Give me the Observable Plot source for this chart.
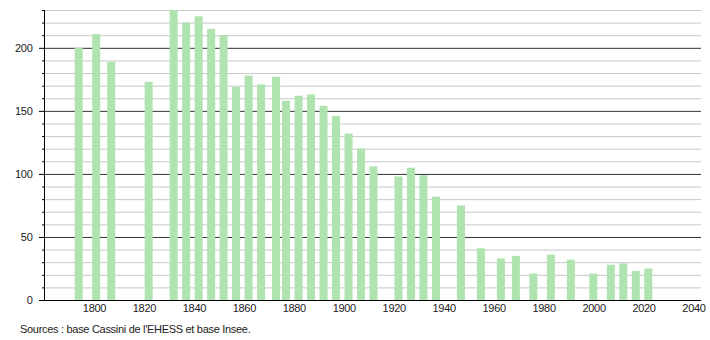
<!DOCTYPE html>
<html>
<head>
<meta charset="utf-8">
<script src="https://cdn.jsdelivr.net/npm/d3@7"></script>
<script src="https://cdn.jsdelivr.net/npm/@observablehq/plot@0.6"></script>
<style>
  body { margin: 0; background: #fff; font-family: "Liberation Sans", Arial, sans-serif; }
  #caption { font-size: 11px; letter-spacing: -0.3px; color: #222; margin: 5px 0 0 20px; line-height: 12px; }
  #chart svg text { letter-spacing: -0.3px; }
</style>
</head>
<body>
<div id="chart"></div>
<div id="caption">Sources : base Cassini de l'EHESS et base Insee.</div>
<script>
const years = [1793, 1800, 1806, 1821, 1831, 1836, 1841, 1846, 1851, 1856, 1861, 1866, 1872, 1876, 1881, 1886, 1891, 1896, 1901, 1906, 1911, 1921, 1926, 1931, 1936, 1946, 1954, 1962, 1968, 1975, 1982, 1990, 1999, 2006, 2011, 2016, 2021];
const population = [200, 211, 189, 173, 230, 220, 225, 215, 210, 169, 178, 171, 177, 158, 162, 163, 154, 146, 132, 120, 106, 98, 105, 99, 82, 75, 41, 33, 35, 21, 36, 32, 21, 28, 29, 23, 25];
const xTicks = [1800, 1820, 1840, 1860, 1880, 1900, 1920, 1940, 1960, 1980, 2000, 2020, 2040];
const yMajor = [0, 50, 100, 150, 200];
const yMinor = d3.range(10, 231, 10).filter(v => v % 50 !== 0);

const data = years.map((y, i) => ({year: y, pop: population[i]}));

const chart = Plot.plot({
  width: 710,
  height: 318,
  marginTop: 10,
  marginBottom: 18,
  marginLeft: 44,
  marginRight: 9,
  style: {fontFamily: "Liberation Sans, Arial, sans-serif", fontSize: "11px", color: "#222", background: "#fff"},
  x: {domain: [1780, 2043], label: null},
  y: {domain: [0, 230], label: null},
  marks: [
    Plot.gridY(yMinor, {stroke: "#c8c8c8", strokeOpacity: 1}),
    Plot.gridY(yMajor.filter(v => v > 0), {stroke: "#333", strokeOpacity: 1}),
    Plot.rectY(data, {x1: d => d.year - 0.7, x2: d => d.year + 2.5, y: "pop", fill: "#afe3af"}),
    Plot.ruleX([1780], {stroke: "#000"}),
    Plot.ruleY([0], {stroke: "#000"}),
    Plot.axisY(yMinor, {tickSize: 2, text: null, stroke: "#000", label: null}),
    Plot.axisY(yMajor, {tickSize: 5, tickPadding: 7, stroke: "#000", label: null}),
    Plot.axisX(xTicks, {tickSize: 0, tickPadding: 4, tickFormat: d => String(d), label: null})
  ]
});
document.getElementById("chart").appendChild(chart);
</script>
</body>
</html>
